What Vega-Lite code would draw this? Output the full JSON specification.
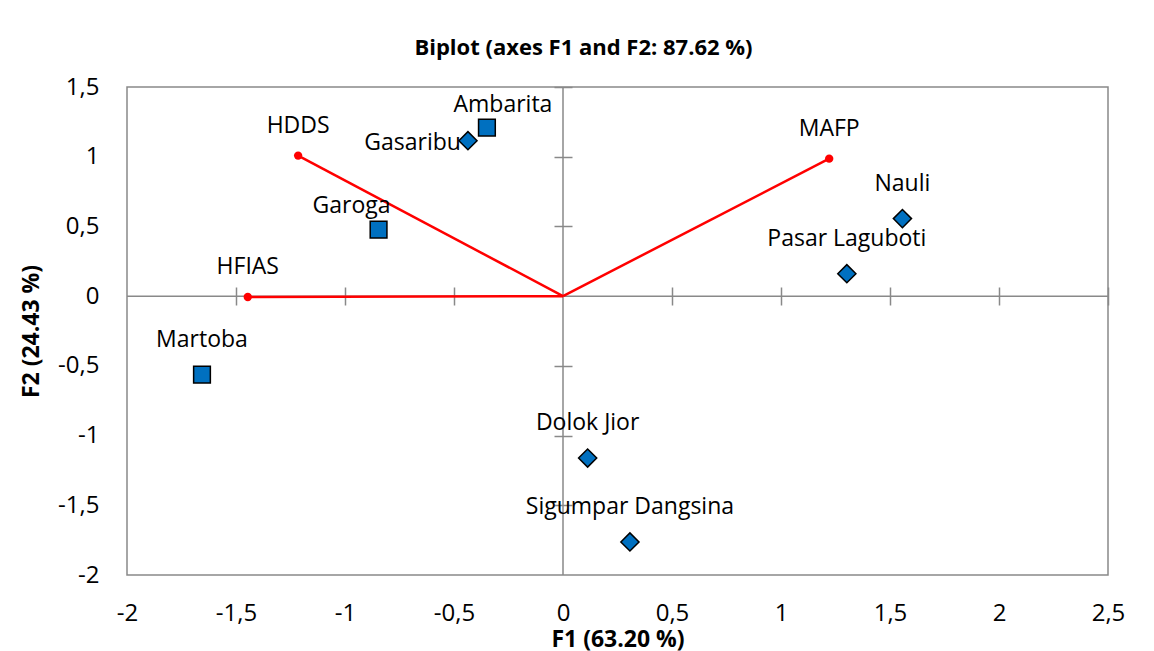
{
  "$schema": "https://vega.github.io/schema/vega-lite/v6.json",
  "width": 981,
  "height": 488,
  "autosize": "none",
  "padding": {"left": 127, "top": 87, "right": 46, "bottom": 76},
  "background": "white",
  "title": {
    "text": "Biplot (axes F1 and F2: 87.62 %)",
    "font": "Open Sans",
    "fontSize": 22,
    "fontWeight": "bold",
    "color": "black",
    "anchor": "middle",
    "dx": -34,
    "offset": 15
  },
  "config": {
    "view": {"stroke": "#898989", "strokeWidth": 1.5},
    "font": "Open Sans"
  },
  "datasets": {
    "sites": [
      {"site": "Ambarita", "F1": -0.349, "F2": 1.209, "group": "A"},
      {"site": "Gasaribu", "F1": -0.436, "F2": 1.115, "group": "B"},
      {"site": "Garoga", "F1": -0.846, "F2": 0.477, "group": "A"},
      {"site": "Martoba", "F1": -1.656, "F2": -0.563, "group": "A"},
      {"site": "Nauli", "F1": 1.557, "F2": 0.556, "group": "B"},
      {"site": "Pasar Laguboti", "F1": 1.302, "F2": 0.161, "group": "B"},
      {"site": "Dolok Jior", "F1": 0.113, "F2": -1.161, "group": "B"},
      {"site": "Sigumpar Dangsina", "F1": 0.307, "F2": -1.763, "group": "B"}
    ],
    "vars": [
      {"var": "HDDS", "F1": -1.215, "F2": 1.008},
      {"var": "MAFP", "F1": 1.221, "F2": 0.986},
      {"var": "HFIAS", "F1": -1.446, "F2": -0.006}
    ]
  },
  "resolve": {"axis": {"x": "independent", "y": "independent"}},
  "layer": [
    {
      "data": {"values": [{}]},
      "mark": {"type": "rule", "color": "#898989", "strokeWidth": 1.5},
      "encoding": {
        "x": {"datum": -2, "type": "quantitative",
              "scale": {"domain": [-2, 2.5], "nice": false, "zero": false},
              "axis": {"orient": "bottom", "offset": -288, "tickSize": 18, "tickColor": "#898989", "tickWidth": 1.5,
                       "domain": false, "labels": false, "grid": false, "title": null,
                       "values": [-1.5, -1, -0.5, 0.5, 1, 1.5, 2, 2.5]}},
        "x2": {"datum": 2.5},
        "y": {"datum": 0, "type": "quantitative",
              "scale": {"domain": [-2, 1.5], "nice": false, "zero": false}, "axis": null}
      }
    },
    {
      "data": {"values": [{}]},
      "mark": {"type": "rule", "color": "#898989", "strokeWidth": 1.5},
      "encoding": {
        "y": {"datum": -2, "type": "quantitative",
              "axis": {"orient": "left", "offset": -445, "tickSize": 18, "tickColor": "#898989", "tickWidth": 1.5,
                       "domain": false, "labels": false, "grid": false, "title": null,
                       "values": [-1.5, -1, -0.5, 0.5, 1, 1.5]}},
        "y2": {"datum": 1.5},
        "x": {"datum": 0, "type": "quantitative", "axis": null}
      }
    },
    {
      "data": {"name": "vars"},
      "mark": {"type": "rule", "color": "#FF0000", "strokeWidth": 2.5},
      "encoding": {
        "x": {"field": "F1", "type": "quantitative", "axis": null},
        "y": {"field": "F2", "type": "quantitative", "axis": null},
        "x2": {"datum": 0},
        "y2": {"datum": 0}
      }
    },
    {
      "data": {"name": "vars"},
      "mark": {"type": "point", "shape": "circle", "filled": true, "color": "#FF0000", "size": 70, "opacity": 1},
      "encoding": {
        "x": {"field": "F1", "type": "quantitative", "axis": null},
        "y": {"field": "F2", "type": "quantitative", "axis": null}
      }
    },
    {
      "data": {"name": "vars"},
      "mark": {"type": "text", "fontSize": 23, "color": "black", "align": "center", "baseline": "middle", "dy": -30},
      "encoding": {
        "x": {"field": "F1", "type": "quantitative", "axis": null},
        "y": {"field": "F2", "type": "quantitative", "axis": null},
        "text": {"field": "var"}
      }
    },
    {
      "data": {"name": "sites"},
      "mark": {"type": "point", "filled": true, "color": "#0070C0", "stroke": "black", "strokeWidth": 1.5, "opacity": 1},
      "encoding": {
        "x": {"field": "F1", "type": "quantitative",
              "axis": {"orient": "bottom", "title": "F1 (63.20 %)", "titleFontSize": 23, "titleFontWeight": "bold", "titleColor": "black",
                       "labelFontSize": 24, "labelColor": "black", "labelPadding": 26, "ticks": false, "domain": false, "grid": false,
                       "labelFlush": false, "labelOverlap": false, "labelBound": false,
                       "values": [-2, -1.5, -1, -0.5, 0, 0.5, 1, 1.5, 2, 2.5],
                       "labelExpr": "replace(toString(datum.value), '.', ',')", "titlePadding": 3}},
        "y": {"field": "F2", "type": "quantitative",
              "axis": {"orient": "left", "title": "F2 (24.43 %)", "titleFontSize": 23, "titleFontWeight": "bold", "titleColor": "black",
                       "labelFontSize": 24, "labelColor": "black", "labelPadding": 28, "ticks": false, "domain": false, "grid": false,
                       "labelFlush": false, "labelOverlap": false, "labelBound": false,
                       "values": [-2, -1.5, -1, -0.5, 0, 0.5, 1, 1.5],
                       "labelExpr": "replace(toString(datum.value), '.', ',')", "titlePadding": 14}},
        "shape": {"field": "group", "type": "nominal", "scale": {"domain": ["A", "B"], "range": ["square", "diamond"]}, "legend": null},
        "size": {"field": "group", "type": "nominal", "scale": {"domain": ["A", "B"], "range": [280, 330]}, "legend": null}
      }
    },
    {
      "data": {"name": "sites"},
      "transform": [{"filter": "indexof(['Ambarita','Gasaribu','Garoga'], datum.site) < 0"}],
      "mark": {"type": "text", "fontSize": 23, "color": "black", "align": "center", "baseline": "middle", "dy": -35},
      "encoding": {
        "x": {"field": "F1", "type": "quantitative", "axis": null},
        "y": {"field": "F2", "type": "quantitative", "axis": null},
        "text": {"field": "site"}
      }
    },
    {
      "data": {"name": "sites"},
      "transform": [{"filter": "datum.site === 'Ambarita'"}],
      "mark": {"type": "text", "fontSize": 23, "color": "black", "align": "center", "baseline": "middle", "dy": -23, "dx": 16},
      "encoding": {
        "x": {"field": "F1", "type": "quantitative", "axis": null},
        "y": {"field": "F2", "type": "quantitative", "axis": null},
        "text": {"field": "site"}
      }
    },
    {
      "data": {"name": "sites"},
      "transform": [{"filter": "datum.site === 'Garoga'"}],
      "mark": {"type": "text", "fontSize": 23, "color": "black", "align": "center", "baseline": "middle", "dy": -24, "dx": -27},
      "encoding": {
        "x": {"field": "F1", "type": "quantitative", "axis": null},
        "y": {"field": "F2", "type": "quantitative", "axis": null},
        "text": {"field": "site"}
      }
    },
    {
      "data": {"name": "sites"},
      "transform": [{"filter": "datum.site === 'Gasaribu'"}],
      "mark": {"type": "text", "fontSize": 23, "color": "black", "align": "right", "baseline": "middle", "dy": 2, "dx": -7},
      "encoding": {
        "x": {"field": "F1", "type": "quantitative", "axis": null},
        "y": {"field": "F2", "type": "quantitative", "axis": null},
        "text": {"field": "site"}
      }
    }
  ]
}
